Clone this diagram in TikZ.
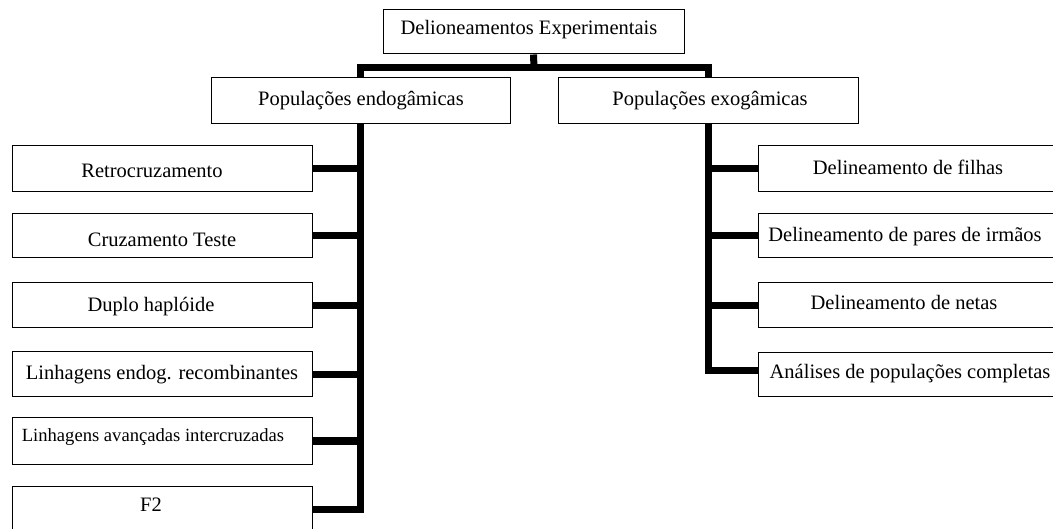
\documentclass[tikz,border=0pt]{standalone}
\usepackage{fontspec}
\setmainfont{Liberation Serif}
\begin{document}
\begin{tikzpicture}[x=1pt,y=-1pt,
  box/.style={draw=black,line width=1pt,rectangle,inner sep=0pt,minimum width=300pt,minimum height=46pt},
  txt/.style={anchor=base,inner sep=0pt,font=\fontsize{20.5}{24}\selectfont},
  conn/.style={draw=black,line width=7pt,line join=miter,line cap=butt}]
\useasboundingbox (0,0) rectangle (1053,529);
\fill[white] (0,0) rectangle (1053,529);
\clip (0,0) rectangle (1053,529);
% boxes
\node[box,minimum width=301pt,minimum height=44pt] (top) at (533.5,32) {};
\node[box,minimum width=299pt] (endo) at (360.5,101) {};
\node[box] (exo) at (708,101) {};
\node[box] (retro) at (162,169) {};
\node[box,minimum height=44pt] (cruz) at (162,236) {};
\node[box,minimum height=45pt] (duplo) at (162,305.5) {};
\node[box,minimum height=45pt] (lendog) at (162,374.5) {};
\node[box] (lavan) at (162,441) {};
\node[box] (ftwo) at (162,509) {};
\node[box] (filhas) at (908,169) {};
\node[box,minimum height=44pt] (pares) at (908,236) {};
\node[box,minimum height=45pt] (netas) at (908,305.5) {};
\node[box,minimum height=44pt] (anal) at (908,375) {};
% texts
\node[txt] (ttop) at (529,35) {Delioneamentos Experimentais};
\node[txt] (tendo) at (361,106) {Populações endogâmicas};
\node[txt] (texo) at (710,106) {Populações exogâmicas};
\node[txt] (tretro) at (152,178) {Retrocruzamento};
\node[txt] (tcruz) at (162,247) {Cruzamento Teste};
\node[txt] (tduplo) at (151,312) {Duplo haplóide};
\node[txt] (tlendog) at (162,380) {Linhagens endog. recombinantes};
\node[txt,font=\fontsize{18.6}{22}\selectfont] (tlavan) at (153,442) {Linhagens avançadas intercruzadas};
\node[txt] (tftwo) at (151,511) {F2};
\node[txt] (tfilhas) at (908,175) {Delineamento de filhas};
\node[txt] (tpares) at (905,242) {Delineamento de pares de irmãos};
\node[txt] (tnetas) at (904,310) {Delineamento de netas};
\node[txt] (tanal) at (910,379) {Análises de populações completas};
% connectors
\coordinate (bar) at (534,67.5);
\draw[conn] (top.south) -- (bar);
\draw[conn] (endo.north) |- (bar) -| (exo.north);
\draw[conn] (endo.south) |- (ftwo.east);
\foreach \b in {retro,cruz,duplo,lendog,lavan}
  \draw[conn] (\b.east) -- (\b.east -| endo.south);
\draw[conn] (exo.south) |- ([yshift=4pt]anal.west);
\foreach \b in {filhas,pares,netas}
  \draw[conn] (\b.west -| exo.south) -- (\b.west);
\end{tikzpicture}
\end{document}
